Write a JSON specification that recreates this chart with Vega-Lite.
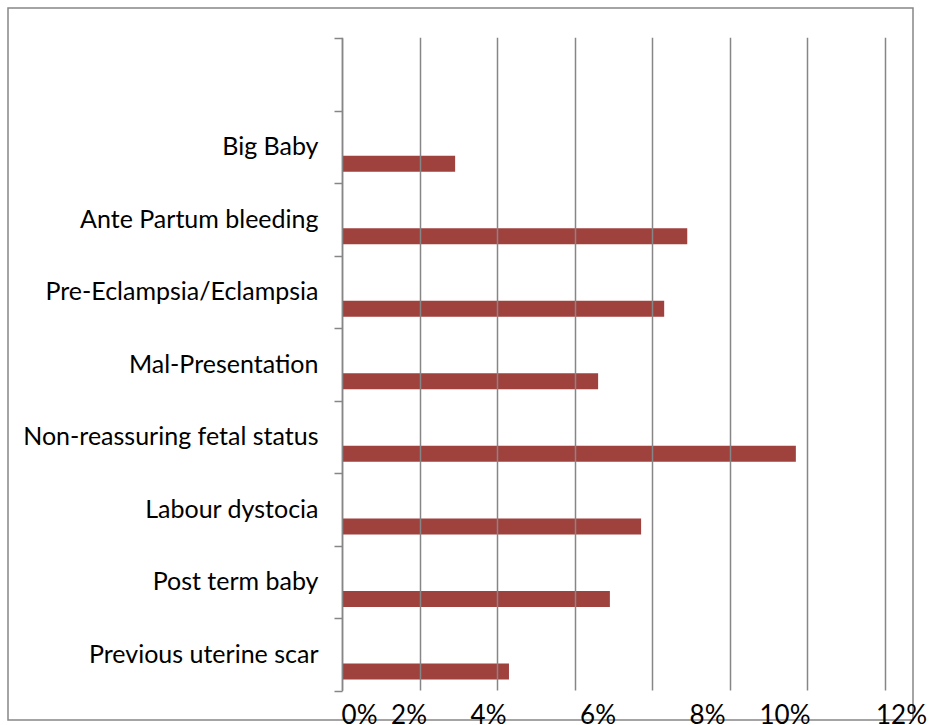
{
  "$schema": "https://vega.github.io/schema/vega-lite/v6.json",
  "autosize": "none",
  "width": 905,
  "height": 712,
  "padding": {"left": 8, "top": 8, "right": 21, "bottom": 5},
  "background": "white",
  "config": {
    "view": {"stroke": "#868686", "strokeWidth": 1.5},
    "font": "Lato"
  },
  "data": {
    "values": [
      {"cause": "Big Baby", "share": 0.025},
      {"cause": "Ante Partum bleeding", "share": 0.0763},
      {"cause": "Pre-Eclampsia/Eclampsia", "share": 0.0712},
      {"cause": "Mal-Presentation", "share": 0.0566},
      {"cause": "Non-reassuring fetal status", "share": 0.1003},
      {"cause": "Labour dystocia", "share": 0.0661},
      {"cause": "Post term baby", "share": 0.0592},
      {"cause": "Previous uterine scar", "share": 0.0369}
    ]
  },
  "layer": [
    {
      "mark": {"type": "bar", "color": "#9f413d", "height": 16, "yOffset": 17},
      "encoding": {
        "y": {
          "field": "cause",
          "type": "nominal",
          "sort": null,
          "scale": {
            "domain": [" ", "Big Baby", "Ante Partum bleeding", "Pre-Eclampsia/Eclampsia", "Mal-Presentation", "Non-reassuring fetal status", "Labour dystocia", "Post term baby", "Previous uterine scar"],
            "range": [30, 682.7],
            "paddingInner": 0,
            "paddingOuter": 0
          },
          "axis": {
            "orient": "left",
            "offset": -334,
            "title": null,
            "grid": false,
            "tickBand": "extent",
            "ticks": true,
            "tickSize": 8,
            "tickColor": "#868686",
            "tickWidth": 1.5,
            "domainColor": "#868686",
            "domainWidth": 1.5,
            "labelFont": "Lato",
            "labelFontSize": 25,
            "labelColor": "#000000",
            "labelPadding": 16,
            "labelLimit": 0
          }
        },
        "x": {
          "field": "share",
          "type": "quantitative",
          "scale": {"domain": [0, 0.12], "range": [334, 877], "nice": false, "zero": true},
          "axis": {
            "orient": "bottom",
            "offset": -29.3,
            "title": null,
            "values": [0, 0.017142857, 0.034285714, 0.051428571, 0.068571429, 0.085714286, 0.102857143, 0.12],
            "grid": true,
            "gridColor": "#868686",
            "gridWidth": 1.5,
            "labels": false,
            "ticks": false,
            "domain": false,
            "zindex": 1
          }
        }
      }
    },
    {
      "mark": {"type": "bar", "opacity": 0, "height": 16, "yOffset": 17},
      "encoding": {
        "y": {"field": "cause", "type": "nominal", "sort": null},
        "x": {
          "field": "share",
          "type": "quantitative",
          "axis": {
            "orient": "bottom",
            "offset": -29.3,
            "title": null,
            "values": [0, 0.02, 0.04, 0.06, 0.08, 0.1, 0.12],
            "format": ".0%",
            "grid": false,
            "ticks": false,
            "domain": false,
            "labelFont": "Lato",
            "labelFontSize": 26,
            "labelColor": "#000000",
            "labelPadding": 12,
            "labelFlush": false,
            "labelOverlap": false,
            "labelOffset": {"expr": "datum.value < 0.01 ? 17 : datum.value < 0.03 ? -24 : datum.value < 0.05 ? -35 : datum.value < 0.07 ? -16 : datum.value < 0.09 ? 3 : datum.value < 0.11 ? -10 : 16"}
          }
        }
      }
    }
  ],
  "resolve": {"axis": {"x": "independent"}}
}
